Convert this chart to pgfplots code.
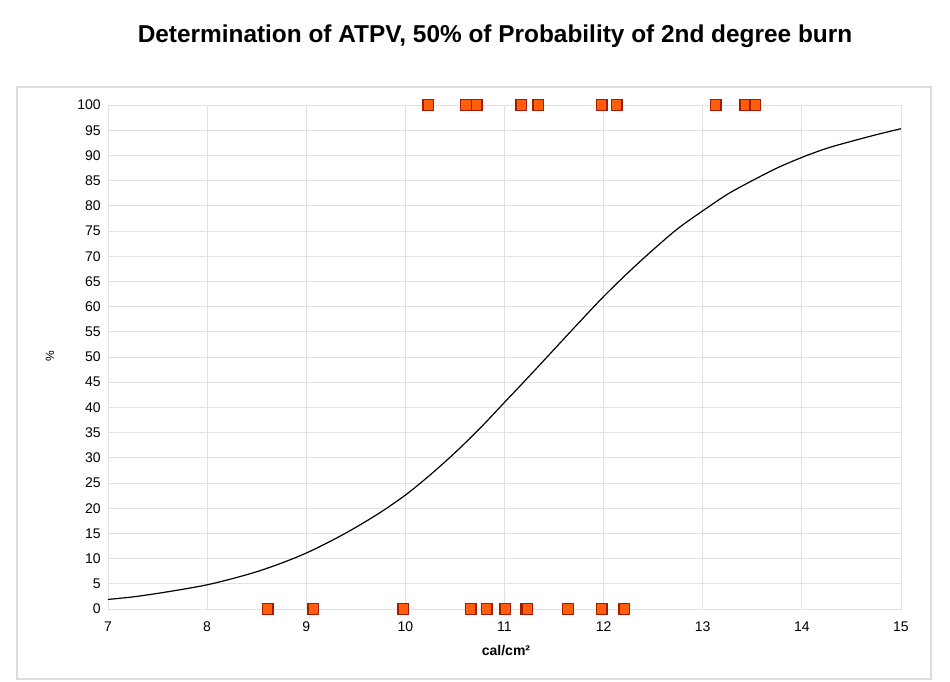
\documentclass[border=0pt]{standalone}
\usepackage{pgfplots}
\pgfplotsset{compat=1.18}
\usepackage{fontspec}
\setmainfont{Liberation Sans}
\definecolor{gridc}{HTML}{E2E2E2}
\definecolor{boxc}{HTML}{DCDCDC}
\definecolor{mfill}{HTML}{FF5F0A}
\definecolor{mdraw}{HTML}{A81A00}
\begin{document}
\begin{tikzpicture}
\useasboundingbox (0pt,0pt) rectangle (712.5pt,-511.5pt);
\draw[boxc, line width=0.8pt] (12.75pt,-65.25pt) rectangle (698.25pt,-509.25pt);
\node[font=\fontsize{18.3}{22}\selectfont\bfseries] at (371.25pt,-27pt) {Determination of ATPV, 50\% of Probability of 2nd degree burn};
\node[rotate=90, font=\fontsize{9}{11}\selectfont] at (37.5pt,-267pt) {\%};
\node[font=\fontsize{10.5}{12}\selectfont\bfseries] at (379.5pt,-488.25pt) {cal/cm²};
\begin{axis}[
  at={(81pt,-456.75pt)}, anchor=south west,
  scale only axis, width=594.75pt, height=378pt,
  xmin=7, xmax=15, ymin=0, ymax=100,
  xtick={7,8,...,15}, ytick={0,5,...,100},
  grid=major, major grid style={gridc, line width=0.6pt},
  axis line style={gridc, line width=0.6pt},
  major tick length=0pt,
  tick label style={font=\fontsize{10.5}{12}\selectfont},
  /pgf/number format/assume math mode=true,
  xticklabel style={yshift=-6pt},
  yticklabel style={xshift=-2pt},
  clip=false,
]
\addplot[black, line width=0.9pt, smooth] coordinates {
(7,1.9) (7.25,2.4) (7.5,3.1) (7.75,3.9) (8,4.8) (8.25,6.0) (8.5,7.4) (8.75,9.1)
(9,11.1) (9.25,13.5) (9.5,16.2) (9.75,19.2) (10,22.6) (10.25,26.6) (10.5,31) (10.75,35.8)
(11,41) (11.25,46.2) (11.5,51.5) (11.75,56.8) (12,62) (12.25,66.8) (12.5,71.3) (12.75,75.5)
(13,79.0) (13.25,82.3) (13.5,85.0) (13.75,87.5) (14,89.6) (14.25,91.4) (14.5,92.8) (14.75,94.1) (15,95.3)
};
\addplot[only marks, mark=square*, mark size=4pt, mark options={fill=mfill, draw=mdraw, line width=1pt}] coordinates {
(10.23,100) (10.61,100) (10.72,100) (11.17,100) (11.34,100) (11.98,100) (12.13,100) (13.13,100) (13.43,100) (13.53,100)
(8.61,0) (9.07,0) (9.98,0) (10.66,0) (10.82,0) (11.01,0) (11.22,0) (11.23,0) (11.64,0) (11.98,0) (12.21,0)
};
\end{axis}
\end{tikzpicture}
\end{document}
